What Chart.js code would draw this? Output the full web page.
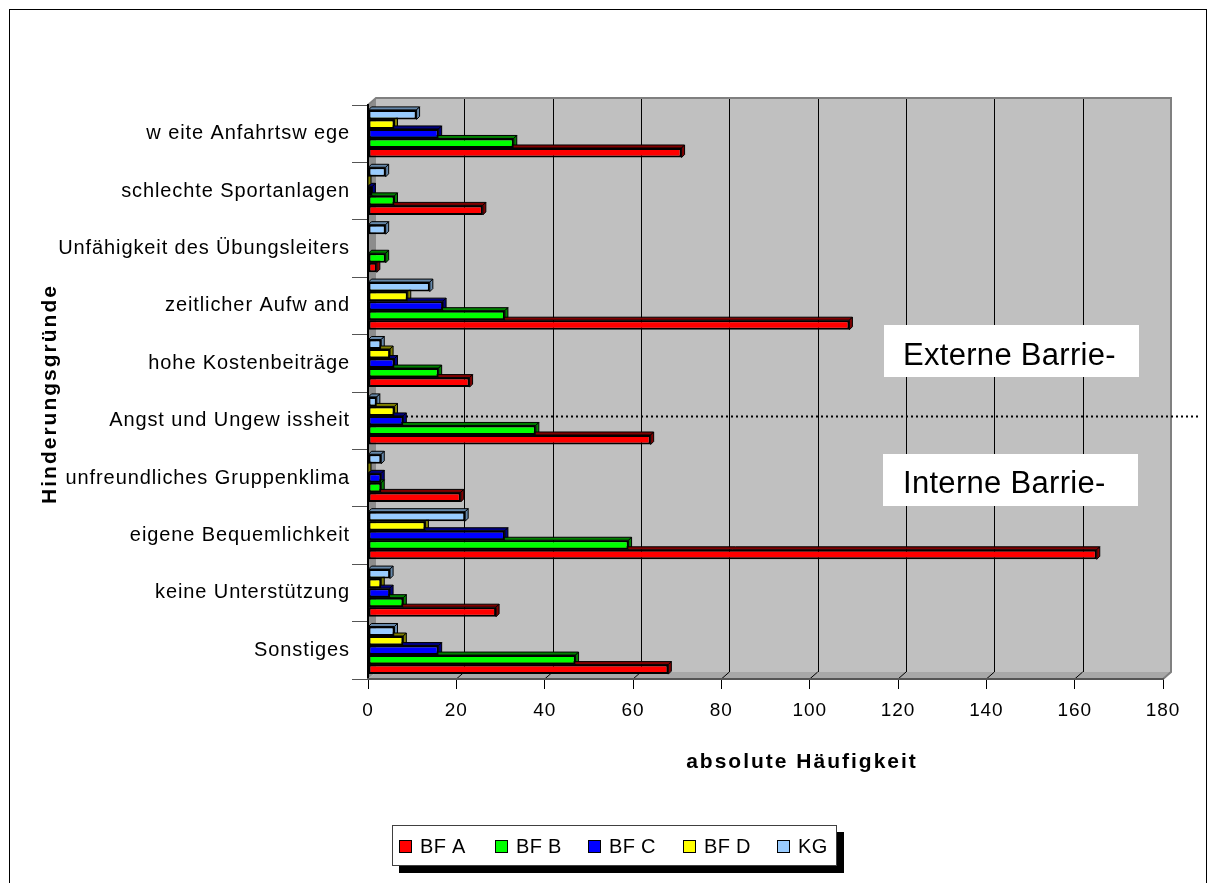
<!DOCTYPE html>
<html><head><meta charset="utf-8">
<script src="https://cdn.jsdelivr.net/npm/chart.js@4.4.0/dist/chart.umd.min.js"></script>
<style>html,body{margin:0;padding:0;background:#fff;}canvas{display:block;}</style>
</head><body>
<canvas id="c" width="1216" height="883"></canvas>
<script>
// Categories listed bottom-to-top (the y axis is reversed so the first one sits at the bottom)
const categories = ["Sonstiges","keine Unterstützung","eigene Bequemlichkeit","unfreundliches Gruppenklima","Angst und Ungew issheit","hohe Kostenbeiträge","zeitlicher Aufw and","Unfähigkeit des Übungsleiters","schlechte Sportanlagen","w eite Anfahrtsw ege"];
const seriesNames = ["BF A","BF B","BF C","BF D","KG"];
const bfA = [68, 29, 165, 21, 64, 23, 109, 2, 26, 71];
const bfB = [47, 8, 59, 3, 38, 16, 31, 4, 6, 33];
const bfC = [16, 5, 31, 3, 8, 6, 17, null, 1, 16];
const bfD = [8, 3, 13, 0, 6, 5, 9, null, 0, 6];
const kg  = [6, 5, 22, 3, 2, 3, 14, 4, 4, 11];
const xTickValues = [0, 20, 40, 60, 80, 100, 120, 140, 160, 180];
const xTitle = "absolute Häufigkeit";
const yTitle = "Hinderungsgründe";
const noteTop = "Externe Barrie-";
const noteBottom = "Interne Barrie-";

const seriesData = [bfA, bfB, bfC, bfD, kg];
const fillColors = ["#FF0000", "#00FF00", "#0000FF", "#FFFF00", "#99CCFF"];
const faceColors = ["#800000", "#008000", "#000080", "#808000", "#6688AA"];
const FONT = "'Liberation Sans', Arial, sans-serif";
const DX = 8, DY = 7, BD = 3;

function poly(ctx, pts, fill, stroke) {
  ctx.beginPath();
  ctx.moveTo(pts[0][0], pts[0][1]);
  for (let i = 1; i < pts.length; i++) ctx.lineTo(pts[i][0], pts[i][1]);
  ctx.closePath();
  if (fill) { ctx.fillStyle = fill; ctx.fill(); }
  if (stroke) { ctx.strokeStyle = stroke; ctx.lineWidth = 1; ctx.stroke(); }
}

const deco = {
  id: 'deco',
  beforeDraw(chart) {
    const ctx = chart.ctx, a = chart.chartArea, xs = chart.scales.x;
    ctx.save();
    ctx.fillStyle = '#fff'; ctx.fillRect(0, 0, chart.width, chart.height);
    ctx.strokeStyle = '#000'; ctx.lineWidth = 1;
    ctx.strokeRect(9.5, 9.5, 1197, 900);
    // back wall
    ctx.fillStyle = '#C0C0C0';
    ctx.fillRect(a.left + DX, a.top - DY, a.right - a.left, a.bottom - a.top);
    // left side wall
    poly(ctx, [[a.left, a.top], [a.left + DX, a.top - DY], [a.left + DX, a.bottom - DY], [a.left, a.bottom]], '#8C8C8C', null);
    // floor
    poly(ctx, [[a.left, a.bottom], [a.left + DX, a.bottom - DY], [a.right + DX, a.bottom - DY], [a.right, a.bottom]], '#A8A8A8', null);
    // back grid lines
    ctx.strokeStyle = '#000'; ctx.lineWidth = 1;
    xTickValues.forEach(v => {
      if (v === 0) return;
      const x = Math.round(xs.getPixelForValue(v) + DX) + 0.5;
      ctx.beginPath(); ctx.moveTo(x, a.top - DY); ctx.lineTo(x, a.bottom - DY); ctx.stroke();
      const fx = xs.getPixelForValue(v);
      ctx.beginPath(); ctx.moveTo(fx, a.bottom); ctx.lineTo(fx + DX, a.bottom - DY); ctx.stroke();
    });
    // wall outline
    ctx.strokeStyle = '#808080'; ctx.lineWidth = 2;
    ctx.beginPath();
    ctx.moveTo(a.left, a.top); ctx.lineTo(a.left + DX, a.top - DY);
    ctx.lineTo(a.right + DX, a.top - DY); ctx.lineTo(a.right + DX, a.bottom - DY);
    ctx.lineTo(a.right, a.bottom);
    ctx.stroke();
    ctx.restore();
    // letter spacing for the axis labels drawn by the scales
    ctx.letterSpacing = '0.9px';
  },
  beforeDatasetsDraw(chart) {
    const ctx = chart.ctx, a = chart.chartArea;
    ctx.save();
    // dotted separator line between external and internal barriers
    const idx = categories.indexOf("Angst und Ungew issheit");
    const cIdx = chart.data.datasets.findIndex(d => d.label === "BF C");
    const el = chart.getDatasetMeta(cIdx).data[idx];
    const ly = Math.round(el.y - el.height / 2) + 0.5;
    ctx.strokeStyle = '#000'; ctx.lineWidth = 2; ctx.setLineDash([2, 3]);
    ctx.beginPath(); ctx.moveTo(a.left + DX, ly); ctx.lineTo(1200, ly); ctx.stroke();
    ctx.setLineDash([]);
    // 3D faces of the bars
    chart.data.datasets.forEach((ds, di) => {
      const meta = chart.getDatasetMeta(di);
      meta.data.forEach((b, i) => {
        if (ds.data[i] === null || ds.data[i] === undefined) return;
        const t = b.y - b.height / 2, bt = b.y + b.height / 2;
        poly(ctx, [[b.base, t], [b.base + BD, t - BD], [b.x + BD, t - BD], [b.x, t]], ds.faceColor, '#000');
        poly(ctx, [[b.x, t], [b.x + BD, t - BD], [b.x + BD, bt - BD], [b.x, bt]], ds.faceColor, '#000');
      });
    });
    ctx.restore();
  },
  afterDatasetsDraw(chart) {
    const ctx = chart.ctx;
    ctx.save();
    ctx.fillStyle = '#fff';
    ctx.fillRect(884, 325, 255, 52);
    ctx.fillRect(883, 454, 255, 52);
    ctx.fillStyle = '#000';
    ctx.font = "31px " + FONT;
    ctx.letterSpacing = '0.3px';
    ctx.textAlign = 'left'; ctx.textBaseline = 'alphabetic';
    ctx.fillText(noteTop, 903, 365);
    ctx.fillText(noteBottom, 903, 493);
    ctx.restore();
  },
  afterDraw(chart) {
    const ctx = chart.ctx;
    ctx.save();
    // axis titles
    ctx.fillStyle = '#000';
    ctx.font = "bold 21px " + FONT;
    ctx.letterSpacing = '2px';
    ctx.textAlign = 'center'; ctx.textBaseline = 'alphabetic';
    ctx.fillText(xTitle, 802, 768);
    ctx.save();
    ctx.translate(56, 394); ctx.rotate(-Math.PI / 2);
    ctx.fillText(yTitle, 0, 0);
    ctx.restore();
    // legend
    ctx.letterSpacing = '0.3px';
    ctx.fillStyle = '#000';
    ctx.fillRect(399, 832, 445, 41);
    ctx.fillStyle = '#fff';
    ctx.fillRect(392, 825, 445, 41);
    ctx.strokeStyle = '#404040'; ctx.lineWidth = 1;
    ctx.strokeRect(392.5, 825.5, 444, 40);
    const mx = [399, 495, 588, 683, 777];
    ctx.font = "20px " + FONT;
    ctx.textAlign = 'left';
    seriesNames.forEach((name, i) => {
      ctx.fillStyle = fillColors[i];
      ctx.fillRect(mx[i], 840, 13, 13);
      ctx.strokeStyle = '#000';
      ctx.strokeRect(mx[i] + 0.5, 840.5, 12, 12);
      ctx.fillStyle = '#000';
      ctx.fillText(name, mx[i] + 21, 853);
    });
    ctx.restore();
  }
};

// datasets placed top-to-bottom inside each group: KG, BF D, BF C, BF B, BF A
const drawOrder = [4, 3, 2, 1, 0];

new Chart(document.getElementById('c'), {
  type: 'bar',
  data: {
    labels: categories,
    datasets: drawOrder.map(i => ({
      label: seriesNames[i],
      data: seriesData[i],
      backgroundColor: fillColors[i],
      faceColor: faceColors[i],
      borderColor: '#000',
      borderWidth: 2,
      borderSkipped: false
    }))
  },
  options: {
    indexAxis: 'y',
    responsive: false,
    animation: false,
    devicePixelRatio: 1,
    layout: { padding: { left: 10, top: 105, right: 53, bottom: 154 } },
    datasets: { bar: { categoryPercentage: 0.83, barPercentage: 1 } },
    plugins: { legend: { display: false }, tooltip: { enabled: false } },
    scales: {
      y: {
        reverse: true,
        offset: true,
        grid: { drawOnChartArea: false, tickLength: 16, color: '#555', offset: true },
        border: { color: '#000', width: 2 },
        ticks: { font: { family: FONT, size: 20 }, color: '#000', padding: 2 },
        afterFit(s) { s.width = 358; }
      },
      x: {
        min: 0, max: 180,
        afterBuildTicks(s) { s.ticks = xTickValues.map(v => ({ value: v })); },
        ticks: { font: { family: FONT, size: 19 }, color: '#000', padding: 10, maxRotation: 0 },
        grid: { drawOnChartArea: false, tickLength: 10, color: '#000' },
        border: { color: '#555', width: 2 },
        afterFit(s) { s.height = 50; }
      }
    }
  },
  plugins: [deco]
});
</script>
</body></html>
